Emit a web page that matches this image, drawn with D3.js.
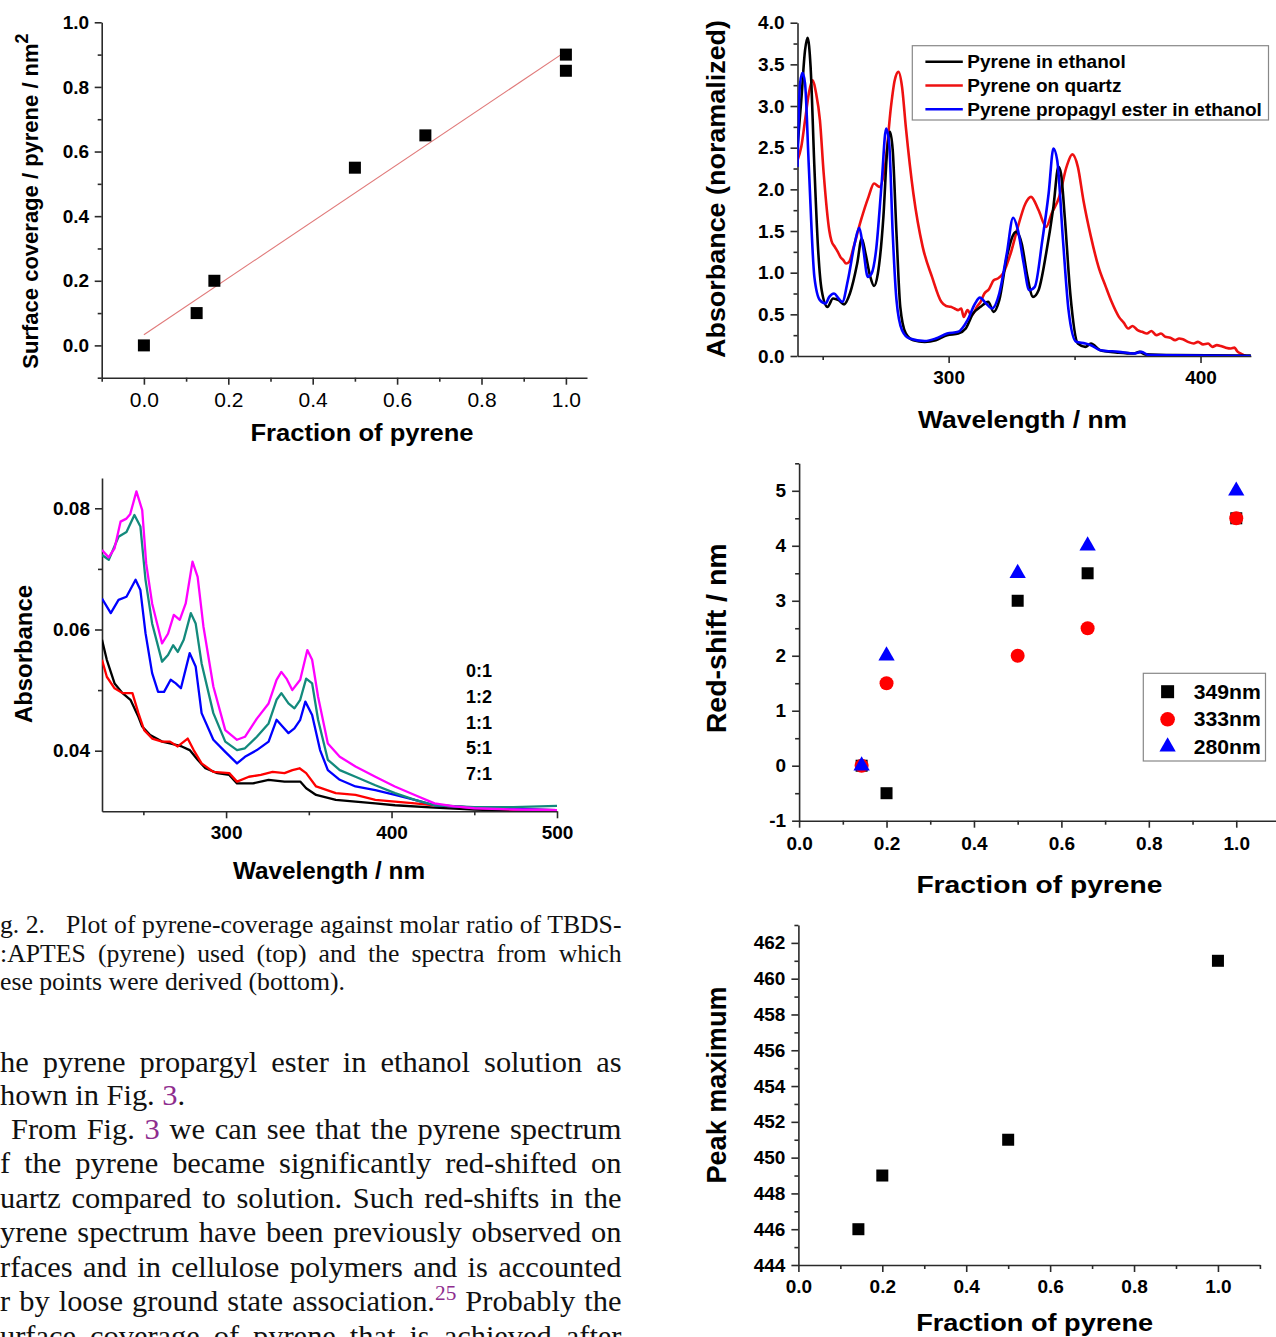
<!DOCTYPE html>
<html><head><meta charset="utf-8">
<script src="https://cdn.jsdelivr.net/npm/d3@7"></script>
<style>body{margin:0;background:#fff}svg{display:block}</style>
</head><body>
<script>
// ---------- DATA ----------
// Panel A: surface coverage vs fraction of pyrene
const coverageFraction = [0, 0.125, 0.167, 0.5, 0.667, 1.0, 1.0];
const coverageValue    = [0, 0.10, 0.20, 0.55, 0.65, 0.90, 0.85];
const fitX = [0, 1.0];
const fitY = [0.033, 0.91];

// Panel B: absorbance spectra for TBDS:APTES ratios
const ratioLabels = ["0:1", "1:2", "1:1", "5:1", "7:1"];
const specMagenta = [[225,0.0731],[229,0.0719],[232.6,0.0734],[236.2,0.0778],[239.8,0.0783],[242,0.0790],[245.8,0.0828],[249.3,0.0797],[251.7,0.0709],[255.3,0.0643],[261.3,0.0577],[264.9,0.0593],[268.4,0.0624],[272,0.0616],[275.6,0.0643],[279.7,0.0712],[282.8,0.0687],[286.3,0.0605],[292.3,0.0506],[299.5,0.0434],[306.6,0.0418],[311.4,0.0423],[318.6,0.0453],[325.7,0.0478],[330.5,0.0517],[333.4,0.0530],[336.5,0.0519],[340,0.0500],[344.8,0.0517],[349.1,0.0566],[352,0.0550],[355.6,0.0489],[361.5,0.0412],[368.7,0.0390],[378.2,0.0374],[390.2,0.0357],[402,0.0341],[414,0.0327],[426,0.0313],[438,0.0308],[450,0.0305],[473.7,0.0303],[500,0.0302]];
const specTeal = [[225,0.0723],[229.1,0.0715],[235,0.0753],[239.8,0.0761],[244.6,0.0789],[248.2,0.0770],[251.3,0.0682],[255.3,0.0610],[261.3,0.0547],[264.9,0.0558],[268,0.0574],[270.8,0.0563],[274.4,0.0583],[278.7,0.0627],[281.6,0.0610],[285.2,0.0544],[292.3,0.0462],[299.5,0.0415],[306.6,0.0401],[311.4,0.0404],[318.6,0.0423],[325.7,0.0445],[330.5,0.0484],[333.4,0.0495],[337.7,0.0478],[341.3,0.0470],[344.8,0.0484],[348.4,0.0519],[352,0.0511],[355.6,0.0451],[361.5,0.0385],[368.7,0.0368],[378.2,0.0357],[390.2,0.0343],[402.1,0.0330],[414.1,0.0319],[426,0.0310],[449.9,0.0307],[473.7,0.0307],[500,0.0309]];
const specBlue = [[225,0.0651],[230.3,0.0627],[235,0.0649],[239.8,0.0654],[245.3,0.0682],[248.2,0.0665],[251.3,0.0594],[255.3,0.0528],[258.9,0.0497],[262.5,0.0497],[266.5,0.0517],[269.6,0.0511],[272.7,0.0503],[278,0.0561],[281.6,0.0539],[285.2,0.0462],[292.3,0.0418],[299.5,0.0398],[306.6,0.0379],[311.4,0.0390],[318.6,0.0401],[325.7,0.0415],[330.5,0.0451],[334.1,0.0440],[337.7,0.0429],[341.3,0.0437],[344.8,0.0451],[347.9,0.0481],[352,0.0459],[356.8,0.0401],[361.5,0.0368],[368.7,0.0352],[378.2,0.0341],[390.2,0.0335],[402.1,0.0327],[414.1,0.0319],[426,0.0310],[449.9,0.0306],[473.7,0.0304],[500,0.0302]];
const specBlack = [[225,0.0583],[227.9,0.0550],[232.6,0.0511],[237.4,0.0495],[242.2,0.0484],[247,0.0456],[249.3,0.0440],[254.1,0.0426],[261.3,0.0415],[266.1,0.0412],[273.2,0.0407],[278,0.0401],[282.8,0.0385],[287.5,0.0371],[294.7,0.0363],[301.9,0.0360],[306.6,0.0346],[316.2,0.0346],[325.7,0.0352],[335.3,0.0349],[344.8,0.0349],[348.4,0.0338],[354.4,0.0327],[366.3,0.0319],[378.2,0.0316],[390.2,0.0313],[402.1,0.0310],[426,0.0306],[449.9,0.0303],[473.7,0.0301],[500,0.0301]];
const specRed = [[225,0.0550],[227.9,0.0522],[232.6,0.0503],[237.4,0.0495],[243.4,0.0495],[247,0.0462],[250.5,0.0434],[255.3,0.0420],[261.3,0.0415],[266.1,0.0415],[270.8,0.0407],[276.8,0.0420],[280.4,0.0401],[285.2,0.0379],[292.3,0.0365],[301.9,0.0363],[306.6,0.0349],[313.8,0.0357],[321,0.0360],[328.1,0.0365],[335.3,0.0363],[340.1,0.0368],[344.4,0.0371],[348.4,0.0363],[354.4,0.0341],[366.3,0.0330],[378.2,0.0327],[390.2,0.0319],[402.1,0.0316],[414.1,0.0313],[426,0.0310],[449.9,0.0306],[473.7,0.0303],[500,0.0302]];

// Panel C: normalized absorbance spectra
const legendC = ["Pyrene in ethanol", "Pyrene on quartz", "Pyrene propagyl ester in ethanol"];
const normEthanol = [[240,2.51],[241.5,3.07],[243,3.67],[244,3.82],[245.2,3.47],[246.7,2.27],[248.2,1.27],[249.6,0.79],[251.9,0.59],[254.1,0.69],[256.3,0.67],[258.5,0.62],[260.8,0.75],[263.7,1.11],[265.5,1.41],[267,1.23],[268.9,0.95],[270.4,0.84],[271.9,0.99],[274.1,1.67],[275.6,2.47],[276.7,2.69],[277.8,2.47],[279.3,1.47],[280.8,0.59],[283,0.27],[286,0.19],[290.5,0.17],[294.9,0.19],[299.4,0.25],[303.8,0.27],[306.8,0.33],[309.7,0.51],[312.7,0.59],[315.7,0.65],[317.9,0.53],[320.1,0.67],[323.1,1.19],[326.8,1.49],[329,1.35],[331.3,0.95],[333.5,0.71],[335.7,0.79],[338.7,1.23],[341.6,1.79],[343.6,2.27],[344.6,2.19],[346.1,1.67],[348.3,0.75],[351.3,0.15],[354.3,0.11],[356.5,0.15],[360.2,0.07],[367.6,0.04],[373.5,0.03],[375.8,0.05],[378,0.02],[389.9,0.01],[420,0.005]];
const normQuartz = [[240,2.35],[241.5,2.51],[243,2.83],[244.5,3.15],[245.9,3.31],[247.4,3.15],[248.9,2.83],[250.4,2.19],[252.6,1.51],[253.5,1.38],[254.8,1.31],[256,1.25],[257,1.19],[258.2,1.15],[259.3,1.11],[260.5,1.13],[262.3,1.31],[265.2,1.63],[268.2,1.91],[270.4,2.07],[272.6,2.03],[274.9,2.31],[277.1,2.99],[278.6,3.31],[280.1,3.41],[281.5,3.23],[283,2.75],[286,1.95],[289.7,1.31],[293.4,0.95],[297.1,0.65],[299,0.60],[300.8,0.59],[302.3,0.57],[303.8,0.55],[305,0.57],[306,0.47],[307.5,0.55],[309,0.49],[310.2,0.53],[311.2,0.59],[312.7,0.65],[314.2,0.75],[316,0.80],[317.9,0.91],[319.5,0.93],[321.6,0.99],[324.6,1.23],[327.5,1.55],[330.5,1.83],[332.7,1.91],[335.7,1.75],[338.7,1.55],[340.9,1.71],[343.9,1.91],[346.8,2.27],[349.1,2.42],[351.3,2.27],[353.5,1.87],[356.5,1.43],[359.5,1.07],[362.4,0.83],[364.7,0.65],[367.6,0.47],[369.5,0.40],[371.3,0.33],[373,0.36],[375,0.31],[376.8,0.29],[378.7,0.27],[380.5,0.30],[382.5,0.25],[384.3,0.27],[386,0.23],[388,0.22],[389.9,0.19],[391.5,0.21],[393,0.20],[395,0.17],[397.3,0.15],[399,0.17],[401,0.14],[403,0.15],[404.7,0.11],[406.5,0.13],[408,0.12],[410,0.10],[412.1,0.09],[413.5,0.10],[414.5,0.06],[416.6,0.02],[418,0.0]];
const normEster = [[240,2.27],[241,3.27],[242,3.40],[243,3.27],[244.5,2.27],[246.7,0.95],[248.9,0.67],[251.1,0.63],[252.6,0.71],[254.5,0.75],[256.3,0.69],[257.8,0.65],[260,0.91],[262.7,1.35],[264.5,1.54],[266,1.31],[267.9,0.95],[269.4,0.99],[271.2,1.27],[273.4,2.07],[275.2,2.73],[276.4,2.55],[277.8,1.47],[279.3,0.67],[281.5,0.31],[284.5,0.21],[290.5,0.18],[294.9,0.21],[299.4,0.27],[303.8,0.29],[307.5,0.43],[310.5,0.63],[312.4,0.70],[314.9,0.63],[317.2,0.57],[320.1,0.75],[323.1,1.23],[325.6,1.66],[327.5,1.51],[329.8,1.11],[332,0.79],[334.2,0.83],[337.2,1.39],[339.7,1.95],[341.6,2.49],[343.1,2.35],[345.4,1.39],[347.6,0.55],[350.6,0.17],[354.3,0.15],[356.5,0.13],[360.2,0.07],[367.6,0.05],[373.5,0.03],[376.5,0.05],[379.5,0.01],[420,0.0]];

// Panel D: red-shift vs fraction
const shiftFraction = [0.143, 0.2, 0.5, 0.66, 1.0];
const shift349 = [0, -0.5, 3, 3.5, 4.5];
const shift333 = [0, 1.5, 2, 2.5, 4.5];
const shift280 = [0, 2, 3.5, 4, 5];
const legendD = ["349nm", "333nm", "280nm"];

// Panel E: peak maximum vs fraction
const peakFraction = [0.143, 0.2, 0.5, 1.0];
const peakMax = [446, 449, 451, 461];

// ---------- DRAWING ----------
const W = 1276, H = 1337;
const SANS = "'Liberation Sans', Arial, Helvetica, sans-serif";
const SERIF = "'Liberation Serif', 'Times New Roman', serif";
const svg = d3.select("body").append("svg").attr("width", W).attr("height", H);
const defs = svg.append("defs");
let clipId = 0;

function axes(x, y, o) {
  const g = svg.append("g");
  const y0 = y.range()[0], x0 = x.range()[0];
  const bx = g.append("g").attr("transform", `translate(0,${y0})`)
    .call(d3.axisBottom(x).tickValues(o.xMajor).tickFormat(o.xFmt).tickSize(7).tickSizeOuter(0).tickPadding(o.xPad));
  const bxm = g.append("g").attr("transform", `translate(0,${y0})`)
    .call(d3.axisBottom(x).tickValues(o.xMinor).tickFormat("").tickSize(4).tickSizeOuter(0));
  bxm.select(".domain").remove();
  const ly = g.append("g").attr("transform", `translate(${x0},0)`)
    .call(d3.axisLeft(y).tickValues(o.yMajor).tickFormat(o.yFmt).tickSize(7).tickSizeOuter(0).tickPadding(o.yPad));
  const lym = g.append("g").attr("transform", `translate(${x0},0)`)
    .call(d3.axisLeft(y).tickValues(o.yMinor).tickFormat("").tickSize(4).tickSizeOuter(0));
  lym.select(".domain").remove();
  g.selectAll(".domain, .tick line").attr("stroke", "#2a2a2a").attr("stroke-width", 1.6);
  bx.selectAll("text").attr("font-family", SANS).attr("font-size", o.xFs || 19)
    .attr("font-weight", o.xW || "bold").attr("fill", "#000");
  ly.selectAll("text").attr("font-family", SANS).attr("font-size", o.yFs || 19)
    .attr("font-weight", "bold").attr("fill", "#000");
  return g;
}

function title(txt, cx, by, fs, len, rotate) {
  const t = svg.append("text").attr("font-family", SANS).attr("font-weight", "bold")
    .attr("font-size", fs).attr("fill", "#000").attr("text-anchor", "middle").text(txt);
  if (rotate) t.attr("transform", `translate(${by},${cx}) rotate(-90)`);
  else t.attr("x", cx).attr("y", by);
  if (len) t.attr("textLength", len).attr("lengthAdjust", "spacingAndGlyphs");
  return t;
}

function clipFor(x, y) {
  const id = "clip" + (clipId++);
  const [xa, xb] = x.range(), [ya, yb] = y.range();
  defs.append("clipPath").attr("id", id).append("rect")
    .attr("x", xa).attr("y", yb).attr("width", xb - xa).attr("height", ya - yb);
  return `url(#${id})`;
}

const sq = 12;
function squares(g, xs, ys, x, y, color) {
  g.selectAll(null).data(xs.map((d, i) => [d, ys[i]])).join("rect")
    .attr("x", d => x(d[0]) - sq / 2).attr("y", d => y(d[1]) - sq / 2)
    .attr("width", sq).attr("height", sq).attr("fill", color);
}

// ===== Panel A =====
{
  const x = d3.scaleLinear().domain([-0.1, 1.05]).range([101.7, 587]);
  const y = d3.scaleLinear().domain([-0.1, 1.0]).range([377.7, 22.3]);
  axes(x, y, {
    xMajor: [0, 0.2, 0.4, 0.6, 0.8, 1.0], xMinor: [-0.1, 0.1, 0.3, 0.5, 0.7, 0.9],
    yMajor: [0, 0.2, 0.4, 0.6, 0.8, 1.0], yMinor: [-0.1, 0.1, 0.3, 0.5, 0.7, 0.9],
    xFmt: d3.format(".1f"), yFmt: d3.format(".1f"), xPad: 7, yPad: 5.5, xFs: 21, xW: "normal"
  });
  const g = svg.append("g");
  g.append("line").attr("x1", x(fitX[0])).attr("y1", y(fitY[0])).attr("x2", x(fitX[1])).attr("y2", y(fitY[1]))
    .attr("stroke", "#e07a7a").attr("stroke-width", 1.1);
  squares(g, coverageFraction, coverageValue, x, y, "#000");
  title("Fraction of pyrene", 362, 440.5, 23, 223);
  const t = svg.append("text").attr("font-family", SANS).attr("font-weight", "bold").attr("font-size", 22)
    .attr("fill", "#000").attr("text-anchor", "middle").attr("transform", "translate(38.3,201) rotate(-90)");
  t.append("tspan").text("Surface coverage / pyrene / nm");
  t.append("tspan").attr("font-size", 18).attr("dy", -10).text("2");
}

// ===== Panel B =====
{
  const x = d3.scaleLinear().domain([225, 500]).range([102, 557]);
  const y = d3.scaleLinear().domain([0.03, 0.085]).range([811.3, 478]);
  axes(x, y, {
    xMajor: [300, 400, 500], xMinor: [250, 350, 450],
    yMajor: [0.04, 0.06, 0.08], yMinor: [0.05, 0.07],
    xFmt: d3.format("d"), yFmt: d3.format(".2f"), xPad: 7, yPad: 5
  });
  const line = d3.line().x(d => x(d[0])).y(d => y(d[1]));
  const g = svg.append("g").attr("clip-path", clipFor(x, y));
  const series = [[specBlack, "#000000"], [specRed, "#ff0000"], [specBlue, "#0000ff"], [specTeal, "#138a7c"], [specMagenta, "#ff00ff"]];
  series.forEach(([d, c]) => g.append("path").datum(d).attr("d", line).attr("fill", "none")
    .attr("stroke", c).attr("stroke-width", 2.3).attr("stroke-linejoin", "round"));
  svg.append("g").selectAll("text").data(ratioLabels).join("text")
    .attr("x", 466).attr("y", (d, i) => 677 + i * 25.8)
    .attr("font-family", SANS).attr("font-weight", "bold").attr("font-size", 18).attr("fill", "#000")
    .text(d => d);
  title("Wavelength / nm", 329, 879.3, 23, 192);
  title("Absorbance", 654, 31.6, 23, 138, true);
}

// ===== Panel C =====
{
  const x = d3.scaleLinear().domain([240, 420]).range([797.5, 1250.9]);
  const y = d3.scaleLinear().domain([0, 4]).range([356, 22.7]);
  axes(x, y, {
    xMajor: [300, 400], xMinor: [250, 350],
    yMajor: d3.range(0, 4.01, 0.5), yMinor: d3.range(0.25, 4, 0.5),
    xFmt: d3.format("d"), yFmt: d3.format(".1f"), xPad: 8, yPad: 6
  });
  const line = d3.line().x(d => x(d[0])).y(d => y(d[1])).curve(d3.curveMonotoneX);
  const g = svg.append("g").attr("clip-path", clipFor(x, y));
  const series = [[normQuartz, "#ee1111"], [normEthanol, "#000000"], [normEster, "#0000ff"]];
  series.forEach(([d, c]) => g.append("path").datum(d).attr("d", line).attr("fill", "none")
    .attr("stroke", c).attr("stroke-width", 2.6).attr("stroke-linejoin", "round"));
  const lg = svg.append("g");
  lg.append("rect").attr("x", 912.3).attr("y", 45.7).attr("width", 356.2).attr("height", 74.3)
    .attr("fill", "#fff").attr("stroke", "#888").attr("stroke-width", 1.2);
  const cols = ["#000000", "#ee1111", "#0000ff"];
  legendC.forEach((d, i) => {
    const yy = 61.7 + i * 23.8;
    lg.append("line").attr("x1", 925.4).attr("x2", 962.8).attr("y1", yy).attr("y2", yy)
      .attr("stroke", cols[i]).attr("stroke-width", 2.4);
    lg.append("text").attr("x", 967.3).attr("y", yy + 6.6).attr("font-family", SANS).attr("font-weight", "bold")
      .attr("font-size", 19).attr("fill", "#000").text(d);
  });
  title("Wavelength / nm", 1022.6, 428.3, 24, 209);
  title("Absorbance (noramalized)", 189, 725.3, 26, 338, true);
}

// ===== Panel D =====
{
  const x = d3.scaleLinear().domain([0, 1.09]).range([799.1, 1275.6]);
  const y = d3.scaleLinear().domain([-1, 5.5]).range([820.7, 463.3]);
  axes(x, y, {
    xMajor: [0, 0.2, 0.4, 0.6, 0.8, 1.0], xMinor: [0.1, 0.3, 0.5, 0.7, 0.9],
    yMajor: [-1, 0, 1, 2, 3, 4, 5], yMinor: [-0.5, 0.5, 1.5, 2.5, 3.5, 4.5, 5.5],
    xFmt: d3.format(".1f"), yFmt: d => String(d), xPad: 8.5, yPad: 6
  });
  const g = svg.append("g");
  squares(g, shiftFraction, shift349, x, y, "#000");
  g.selectAll(null).data(shiftFraction.map((d, i) => [d, shift333[i]])).join("circle")
    .attr("cx", d => x(d[0])).attr("cy", d => y(d[1])).attr("r", 7).attr("fill", "#ff0000");
  const tri = d3.symbol(d3.symbolTriangle, 115);
  g.selectAll(null).data(shiftFraction.map((d, i) => [d, shift280[i]])).join("path")
    .attr("d", tri).attr("transform", d => `translate(${x(d[0])},${y(d[1])})`).attr("fill", "#0000ff");
  const lg = svg.append("g");
  lg.append("rect").attr("x", 1143.3).attr("y", 673.3).attr("width", 122.2).attr("height", 87.7)
    .attr("fill", "#fff").attr("stroke", "#888").attr("stroke-width", 1.2);
  const ly = [691.7, 719.3, 746.7];
  lg.append("rect").attr("x", 1167.6 - 6.5).attr("y", ly[0] - 6.5).attr("width", 13).attr("height", 13).attr("fill", "#000");
  lg.append("circle").attr("cx", 1167.6).attr("cy", ly[1]).attr("r", 7.3).attr("fill", "#ff0000");
  lg.append("path").attr("d", tri).attr("transform", `translate(1167.6,${ly[2]})`).attr("fill", "#0000ff");
  legendD.forEach((d, i) => lg.append("text").attr("x", 1193.7).attr("y", ly[i] + 7)
    .attr("font-family", SANS).attr("font-weight", "bold").attr("font-size", 20).attr("fill", "#000")
    .attr("textLength", 67).attr("lengthAdjust", "spacingAndGlyphs").text(d));
  title("Fraction of pyrene", 1039.4, 893.3, 24, 246);
  title("Red-shift / nm", 638.3, 726, 27, 190, true);
}

// ===== Panel E =====
{
  const x = d3.scaleLinear().domain([0, 1.1]).range([798.4, 1259.9]);
  const y = d3.scaleLinear().domain([444, 463]).range([1265, 925]);
  axes(x, y, {
    xMajor: [0, 0.2, 0.4, 0.6, 0.8, 1.0], xMinor: [0.1, 0.3, 0.5, 0.7, 0.9, 1.1],
    yMajor: d3.range(444, 463, 2), yMinor: d3.range(445, 464, 2),
    xFmt: d3.format(".1f"), yFmt: d3.format("d"), xPad: 8, yPad: 6
  });
  const g = svg.append("g");
  squares(g, peakFraction, peakMax, x, y, "#000");
  title("Fraction of pyrene", 1034.7, 1330.7, 23, 237);
  title("Peak maximum", 1085, 726, 27, 197, true);
}

// ===== Caption & body text =====
const captionLines = [
  { x: 66, y: 933.3, segs: [["Plot of pyrene-coverage against molar ratio of TBDS-"]], justify: true },
  { x: 0, y: 961.7, segs: [[":APTES (pyrene) used (top) and the spectra from which"]], justify: true },
  { x: 0, y: 990, segs: [["ese points were derived (bottom)."]], justify: false }
];
const bodyLines = [
  { x: 0, y: 1071.7, segs: [["he pyrene propargyl ester in ethanol solution as"]], justify: true },
  { x: 0, y: 1105.5, segs: [["hown in Fig. "], ["3", "ref"], ["."]], justify: false },
  { x: 11, y: 1139.5, segs: [["From Fig. "], ["3", "ref"], [" we can see that the pyrene spectrum"]], justify: true },
  { x: 0, y: 1173.5, segs: [["f the pyrene became significantly red-shifted on"]], justify: true },
  { x: 0, y: 1208, segs: [["uartz compared to solution. Such red-shifts in the"]], justify: true },
  { x: 0, y: 1242.5, segs: [["yrene spectrum have been previously observed on"]], justify: true },
  { x: 0, y: 1277, segs: [["rfaces and in cellulose polymers and is accounted"]], justify: true },
  { x: 0, y: 1311.5, segs: [["r by loose ground state association."], ["25", "sup"], [" Probably the"]], justify: true },
  { x: 0, y: 1346, segs: [["urface coverage of pyrene that is achieved after"]], justify: true }
];
const RIGHT = 621.5;
function textBlock(lines, fs, sx) {
  lines.forEach(L => {
    const t = svg.append("text").attr("x", L.x / sx).attr("y", L.y).attr("font-family", SERIF)
      .attr("font-size", fs).attr("fill", "#111").attr("transform", `scale(${sx},1)`);
    L.segs.forEach((s, i) => {
      const sp = t.append("tspan").text(s[0]);
      if (s[1] === "ref") sp.attr("fill", "#8e2c8e");
      if (s[1] === "sup") sp.attr("fill", "#8e2c8e").attr("font-size", fs * 0.7).attr("dy", -fs * 0.38);
      if (i > 0 && L.segs[i - 1][1] === "sup") sp.attr("dy", fs * 0.38);
    });
    if (L.justify) {
      const nat = t.node().getComputedTextLength();
      const n = (t.text().match(/ /g) || []).length;
      if (n > 0) t.attr("word-spacing", ((RIGHT - L.x) / sx - nat) / n);
    }
  });
}
svg.append("text").attr("x", 0).attr("y", 933.3).attr("font-family", SERIF).attr("font-size", 24.5)
  .attr("fill", "#111").attr("transform", "scale(1.05,1)").text("g. 2.");
textBlock(captionLines, 24.5, 1.05);
textBlock(bodyLines, 29, 1.05);
</script>
</body></html>
